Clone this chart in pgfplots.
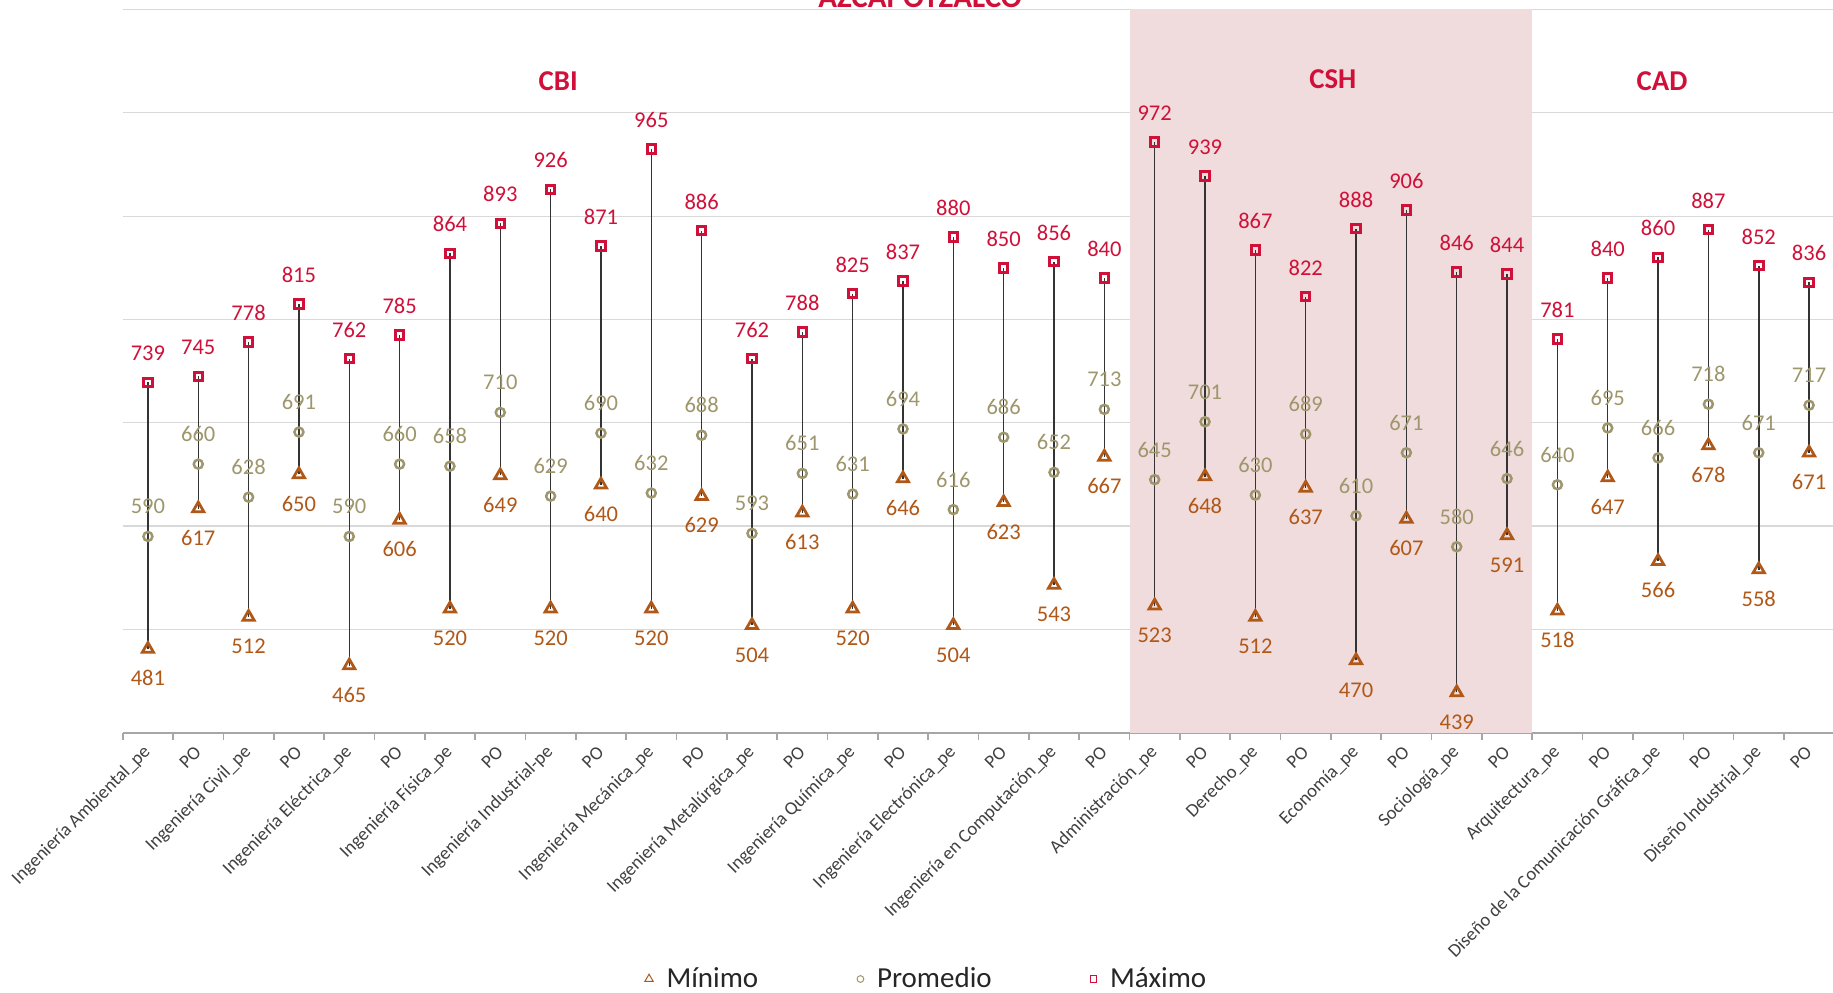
\documentclass[border=0pt]{standalone}
\usepackage{pgfplots}
\usepackage{pgfplotstable}
\usepackage{fontspec}
\setmainfont{Carlito}
\pgfplotsset{compat=1.18}

\definecolor{maxc}{RGB}{208,16,56}
\definecolor{avgc}{RGB}{158,150,108}
\definecolor{minc}{RGB}{176,88,24}
\definecolor{shadec}{RGB}{240,220,220}
\definecolor{gridc}{RGB}{217,217,217}
\definecolor{axisc}{RGB}{166,166,166}
\definecolor{labc}{RGB}{64,64,64}

% x = category index, min / avg / max score
\pgfplotstableread{
x min avg max
1 481 590 739
2 617 660 745
3 512 628 778
4 650 691 815
5 465 590 762
6 606 660 785
7 520 658 864
8 649 710 893
9 520 629 926
10 640 690 871
11 520 632 965
12 629 688 886
13 504 593 762
14 613 651 788
15 520 631 825
16 646 694 837
17 504 616 880
18 623 686 850
19 543 652 856
20 667 713 840
21 523 645 972
22 648 701 939
23 512 630 867
24 637 689 822
25 470 610 888
26 607 671 906
27 439 580 846
28 591 646 844
29 518 640 781
30 647 695 840
31 566 666 860
32 678 718 887
33 558 671 852
34 671 717 836
}\data

\begin{document}
\begin{tikzpicture}
\begin{axis}[
    set layers,
    at={(0pt,0pt)}, anchor=south west,
    scale only axis,
    width=684.6pt, height=289.3pt,
    xmin=0.5, xmax=34.5,
    ymin=400, ymax=1100,
    clip=false,
    axis x line*=bottom,
    axis y line*=left,
    y axis line style={draw=none},
    x axis line style={axisc, line width=0.7pt},
    ytick={400,500,...,1100},
    yticklabels={},
    ytick style={draw=none},
    ymajorgrids,
    major grid style={gridc, line width=0.5pt},
    xtick={1,...,34},
    major x tick style={draw=none},
    minor xtick={0.5,1.5,...,34.5},
    minor x tick style={axisc, line width=0.6pt},
    tick align=outside,
    minor tick length=2.7pt,
    major tick length=0pt,
    xticklabels={Ingeniería Ambiental\_pe,PO,Ingeniería Civil\_pe,PO,Ingeniería Eléctrica\_pe,PO,Ingeniería Física\_pe,PO,Ingeniería Industrial-pe,PO,Ingeniería Mecánica\_pe,PO,Ingeniería Metalúrgica\_pe,PO,Ingeniería Química\_pe,PO,Ingeniería Electrónica\_pe,PO,Ingeniería en Computación\_pe,PO,Administración\_pe,PO,Derecho\_pe,PO,Economía\_pe,PO,Sociología\_pe,PO,Arquitectura\_pe,PO,Diseño de la Comunicación Gráfica\_pe,PO,Diseño Industrial\_pe,PO},
    xticklabel style={font=\fontsize{7.5}{9}\selectfont, text=labc, rotate=45, anchor=east, inner sep=0pt},
    xticklabel shift=6.5pt,
    /pgf/number format/assume math mode=true,
    legend columns=3,
    legend style={draw=none, fill=none, at={(0.4705,-0.3405)}, anchor=center,
        font=\fontsize{11.6}{14}\selectfont, text=black!85,
        /tikz/every odd column/.append style={column sep=3.3pt},
        /tikz/every even column/.append style={column sep=37.5pt}},
    legend image code/.code={\draw[mark repeat=2, mark phase=2, #1, mark options={scale=0.75}]
        plot coordinates {(0cm,0cm) (0.15cm,0cm) (0.3cm,0cm)};},
]
\fill[on layer=axis background, shadec] (axis cs:20.5,400) rectangle (axis cs:28.5,1100);

% high-low lines
\addplot[forget plot, draw=none, mark=none,
    error bars/.cd, y dir=plus, y explicit, error mark=none,
    error bar style={draw=black!80, line width=0.6pt}]
    table[x=x, y=min, y error expr=\thisrow{max}-\thisrow{min}] {\data};

\addplot[only marks, minc, mark=triangle, mark size=2.6pt,
    mark options={line width=1.1pt, solid, fill=none},
    nodes near coords,
    every node near coord/.append style={font=\fontsize{9}{10}\selectfont, text=minc, anchor=base, inner sep=0pt, yshift=-14.7pt}]
    table[x=x, y=min] {\data};
\addlegendentry{Mínimo}

\addplot[only marks, avgc, mark=o, mark size=1.8pt,
    mark options={line width=1pt, solid, fill=none},
    nodes near coords,
    every node near coord/.append style={font=\fontsize{9}{10}\selectfont, text=avgc, anchor=base, inner sep=0pt, yshift=9pt}]
    table[x=x, y=avg] {\data};
\addlegendentry{Promedio}

\addplot[only marks, maxc, mark=square, mark size=1.7pt,
    mark options={line width=1.2pt, solid, fill=none},
    nodes near coords,
    every node near coord/.append style={font=\fontsize{9}{10}\selectfont, text=maxc, anchor=base, inner sep=0pt, yshift=8.6pt}]
    table[x=x, y=max] {\data};
\addlegendentry{Máximo}

\node[anchor=base, font=\bfseries\fontsize{12.4}{14}\selectfont, text=maxc] at (axis cs:16.34,1102) {AZCAPOTZALCO};
\node[anchor=base, font=\bfseries\fontsize{11.5}{13}\selectfont, text=maxc] at (axis cs:9.15,1022) {CBI};
\node[anchor=base, font=\bfseries\fontsize{11.5}{13}\selectfont, text=maxc] at (axis cs:24.54,1024) {CSH};
\node[anchor=base, font=\bfseries\fontsize{11.5}{13}\selectfont, text=maxc] at (axis cs:31.08,1022) {CAD};
\end{axis}
\pgfresetboundingbox
\path[use as bounding box] (-49.1pt,-103.7pt) rectangle (684.1pt,293.1pt);
\end{tikzpicture}
\end{document}
